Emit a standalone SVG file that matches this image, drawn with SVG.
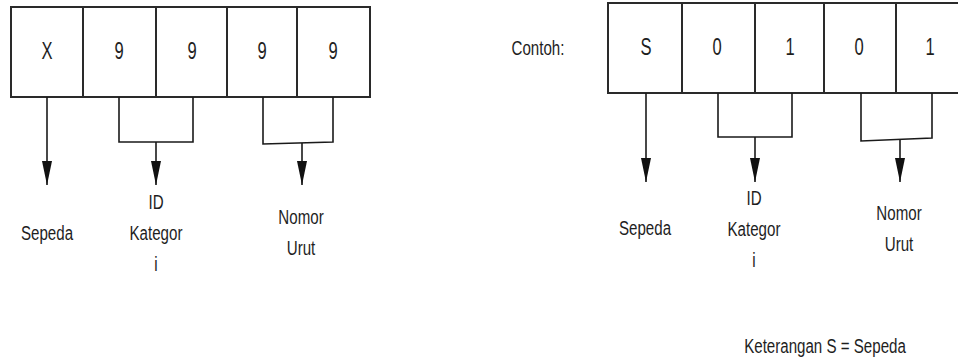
<svg xmlns="http://www.w3.org/2000/svg" width="958" height="360" viewBox="0 0 958 360">
  <style>
    .cell { fill: #ffffff; stroke: #2a2a2a; stroke-width: 2; }
    .div { stroke: #2a2a2a; stroke-width: 2; }
    .conn { fill: none; stroke: #1a1a1a; stroke-width: 1.6; }
    .t { font-family: "Liberation Sans", Arial, sans-serif; fill: #1e1e1e; text-anchor: middle; }
    .lbl { font-size: 21px; }
    .big { font-size: 23px; }
  </style>
  <defs>
    <marker id="arrow" viewBox="0 0 24 10" refX="24" refY="5" markerWidth="24" markerHeight="10" markerUnits="userSpaceOnUse" orient="auto">
      <path d="M0,0 L24,5 L0,10 z" fill="#111111"/>
    </marker>
  </defs>
  <rect width="958" height="360" fill="#ffffff"/>

  <!-- Format code: X 9 9 9 9 -->
  <g id="format-code">
    <rect class="cell" x="11" y="7" width="359" height="90"/>
    <line class="div" x1="83" y1="7" x2="83" y2="97"/>
    <line class="div" x1="156" y1="7" x2="156" y2="97"/>
    <line class="div" x1="227" y1="7" x2="227" y2="97"/>
    <line class="div" x1="297" y1="7" x2="297" y2="97"/>
    <text class="t big" transform="translate(47,59) scale(0.72,1)">X</text>
    <text class="t big" transform="translate(119,59) scale(0.72,1)">9</text>
    <text class="t big" transform="translate(192,59) scale(0.72,1)">9</text>
    <text class="t big" transform="translate(262,59) scale(0.72,1)">9</text>
    <text class="t big" transform="translate(333,59) scale(0.72,1)">9</text>
  </g>

  <g id="format-sepeda">
    <text class="t lbl" transform="translate(47,240) scale(0.72,1)">Sepeda</text>
  </g>
  <g id="format-kategori">
    <text class="t lbl" transform="translate(156,209) scale(0.72,1)">ID</text>
    <text class="t lbl" transform="translate(156,240) scale(0.72,1)">Kategor</text>
    <text class="t lbl" transform="translate(156,271) scale(0.72,1)">i</text>
  </g>
  <g id="format-nomor">
    <text class="t lbl" transform="translate(301,224) scale(0.72,1)">Nomor</text>
    <text class="t lbl" transform="translate(301,255) scale(0.72,1)">Urut</text>
  </g>

  <!-- Example code: S 0 1 0 1 -->
  <g id="contoh-label">
    <text class="t lbl" transform="translate(538,55) scale(0.72,1)">Contoh:</text>
  </g>
  <g id="example-code">
    <rect class="cell" x="608" y="3" width="362" height="90"/>
    <line class="div" x1="682" y1="3" x2="682" y2="93"/>
    <line class="div" x1="755" y1="3" x2="755" y2="93"/>
    <line class="div" x1="824" y1="3" x2="824" y2="93"/>
    <line class="div" x1="896" y1="3" x2="896" y2="93"/>
    <text class="t big" transform="translate(646,55) scale(0.72,1)">S</text>
    <text class="t big" transform="translate(717,55) scale(0.72,1)">0</text>
    <text class="t big" transform="translate(790,55) scale(0.72,1)">1</text>
    <text class="t big" transform="translate(859,55) scale(0.72,1)">0</text>
    <text class="t big" transform="translate(930,55) scale(0.72,1)">1</text>
  </g>

  <g id="example-sepeda">
    <text class="t lbl" transform="translate(645,235) scale(0.72,1)">Sepeda</text>
  </g>
  <g id="example-kategori">
    <text class="t lbl" transform="translate(754,205) scale(0.72,1)">ID</text>
    <text class="t lbl" transform="translate(754,236) scale(0.72,1)">Kategor</text>
    <text class="t lbl" transform="translate(754,267) scale(0.72,1)">i</text>
  </g>
  <g id="example-nomor">
    <text class="t lbl" transform="translate(899,220) scale(0.72,1)">Nomor</text>
    <text class="t lbl" transform="translate(899,251) scale(0.72,1)">Urut</text>
  </g>

  <g id="keterangan">
    <text class="t lbl" transform="translate(825,353) scale(0.72,1)">Keterangan S = Sepeda</text>
  </g>

  <!-- Connectors: brackets and arrows -->
  <g id="connectors">
    <line class="conn" x1="47" y1="97" x2="47" y2="185" marker-end="url(#arrow)"/>
    <polyline class="conn" points="119,97 119,142 193,142 193,97"/>
    <line class="conn" x1="156" y1="142" x2="156" y2="185" marker-end="url(#arrow)"/>
    <polyline class="conn" points="263,97 263,144 333,142 333,97"/>
    <line class="conn" x1="302" y1="143" x2="302" y2="185" marker-end="url(#arrow)"/>

    <line class="conn" x1="646" y1="93" x2="646" y2="182" marker-end="url(#arrow)"/>
    <polyline class="conn" points="718,93 718,137 792,137 792,93"/>
    <line class="conn" x1="755" y1="137" x2="755" y2="182" marker-end="url(#arrow)"/>
    <polyline class="conn" points="861,93 861,141 932,138 932,93"/>
    <line class="conn" x1="900" y1="140" x2="900" y2="182" marker-end="url(#arrow)"/>
  </g>
</svg>
